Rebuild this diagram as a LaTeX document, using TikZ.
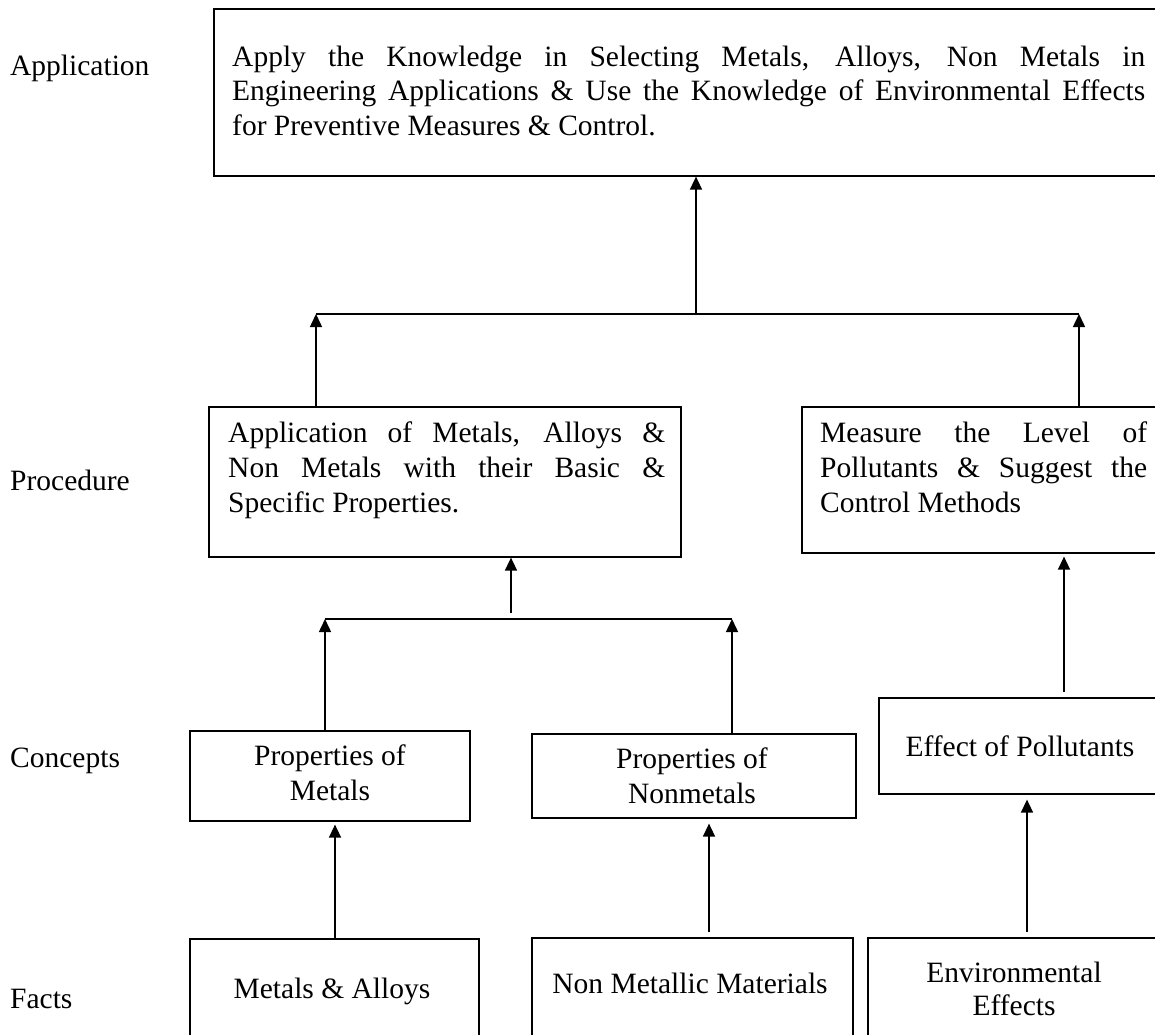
\documentclass[tikz,border=0pt]{standalone}
\usepackage{fontspec}
\setmainfont{Liberation Serif}
\usetikzlibrary{arrows.meta}
\begin{document}
\begin{tikzpicture}[x=1pt,y=1pt,
  every node/.style={font=\fontsize{29.5}{34}\selectfont, inner sep=0pt},
  boxshape/.style={draw, line width=1.6pt, rectangle, minimum width=#1, inner sep=0pt},
  txt/.style={anchor=base west},
  ctxt/.style={anchor=base},
  link/.style={line width=1.5pt},
  arr/.style={line width=1.5pt, -{Triangle[length=13pt,width=12pt]}}
]
\useasboundingbox (0,0) rectangle (1155,-1034);
\clip (0,0) rectangle (1155,-1034);
\fill[white] (0,0) rectangle (1155,-1034);

% boxes (drawn as rectangles from corner to corner)
\node[draw, line width=1.6pt, fit/.style={}, minimum width=957pt, minimum height=167pt, anchor=north west] (app) at (213,-8) {};
\node[draw, line width=1.6pt, minimum width=472pt, minimum height=150pt, anchor=north west] (procL) at (208,-406) {};
\node[draw, line width=1.6pt, minimum width=369pt, minimum height=146pt, anchor=north west] (procR) at (801,-406) {};
\node[draw, line width=1.6pt, minimum width=280pt, minimum height=90pt, anchor=north west] (conM) at (189,-730) {};
\node[draw, line width=1.6pt, minimum width=324pt, minimum height=84pt, anchor=north west] (conN) at (531,-733) {};
\node[draw, line width=1.6pt, minimum width=292pt, minimum height=96pt, anchor=north west] (conE) at (878,-697) {};
\node[draw, line width=1.6pt, minimum width=289pt, minimum height=110pt, anchor=north west] (factM) at (189,-938) {};
\node[draw, line width=1.6pt, minimum width=321pt, minimum height=110pt, anchor=north west] (factN) at (531,-937) {};
\node[draw, line width=1.6pt, minimum width=303pt, minimum height=110pt, anchor=north west] (factE) at (867,-937) {};

% level labels
\node[txt] (lApp) at (10,-75) {Application};
\node[txt] (lProc) at (10,-490) {Procedure};
\node[txt] (lCon) at (10,-767) {Concepts};
\node[txt] (lFact) at (10,-1008) {Facts};

% top box text
\node[txt] (appT1) at (232,-66) {\makebox[913pt][s]{Apply the Knowledge in Selecting Metals, Alloys, Non Metals in}};
\node[txt] (appT2) at (232,-100) {\makebox[913pt][s]{Engineering Applications \& Use the Knowledge of Environmental Effects}};
\node[txt] (appT3) at (232,-135) {for Preventive Measures \& Control.};

% procedure texts
\node[txt] (pL1) at (228,-442) {\makebox[437pt][s]{Application of Metals, Alloys \&}};
\node[txt] (pL2) at (228,-477) {\makebox[437pt][s]{Non Metals with their Basic \&}};
\node[txt] (pL3) at (228,-512) {Specific Properties.};
\node[txt] (pR1) at (820,-442) {\makebox[327pt][s]{Measure the Level of}};
\node[txt] (pR2) at (820,-477) {\makebox[327pt][s]{Pollutants \& Suggest the}};
\node[txt] (pR3) at (820,-512) {Control Methods};

% concept texts
\node[ctxt] (cM1) at (330,-765) {Properties of};
\node[ctxt] (cM2) at (330,-800) {Metals};
\node[ctxt] (cN1) at (692,-768) {Properties of};
\node[ctxt] (cN2) at (692,-803) {Nonmetals};
\node[ctxt] (cE1) at (1020,-756) {Effect of Pollutants};

% fact texts
\node[ctxt] (fM1) at (332,-998) {Metals \& Alloys};
\node[ctxt] (fN1) at (690,-993) {Non Metallic Materials};
\node[ctxt] (fE1) at (1014,-982) {Environmental};
\node[ctxt] (fE2) at (1014,-1015) {Effects};

% connectors: upper junction
\coordinate (hL) at (316,-314);
\coordinate (hR) at (1079,-314);
\coordinate (j1) at (696,-314);
\draw[link] (hL) -- (hR);
\draw[arr] (j1) -- (j1 |- app.south);
\draw[arr] (hL |- procL.north) -- (hL);
\draw[arr] (hR |- procR.north) -- (hR);

% lower junction
\coordinate (h2L) at (325,-619);
\coordinate (h2R) at (732,-619);
\coordinate (j2) at (511,-613);
\draw[link] (h2L) -- (h2R);
\draw[arr] (j2) -- (j2 |- procL.south);
\draw[arr] (h2L |- conM.north) -- (h2L);
\draw[arr] (h2R |- conN.north) -- (h2R);

% effect to measure
\coordinate (j3) at (1064,-692);
\draw[arr, shorten >=3pt] (j3) -- (j3 |- procR.south);

% facts to concepts
\coordinate (aM) at (335,0);
\coordinate (aN) at (709,0);
\coordinate (aE) at (1027,0);
\draw[arr, shorten >=3pt] (aM |- factM.north) -- (aM |- conM.south);
\draw[arr, shorten <=5pt, shorten >=5pt] (aN |- factN.north) -- (aN |- conN.south);
\draw[arr, shorten <=5pt, shorten >=5pt] (aE |- factE.north) -- (aE |- conE.south);
\end{tikzpicture}
\end{document}
